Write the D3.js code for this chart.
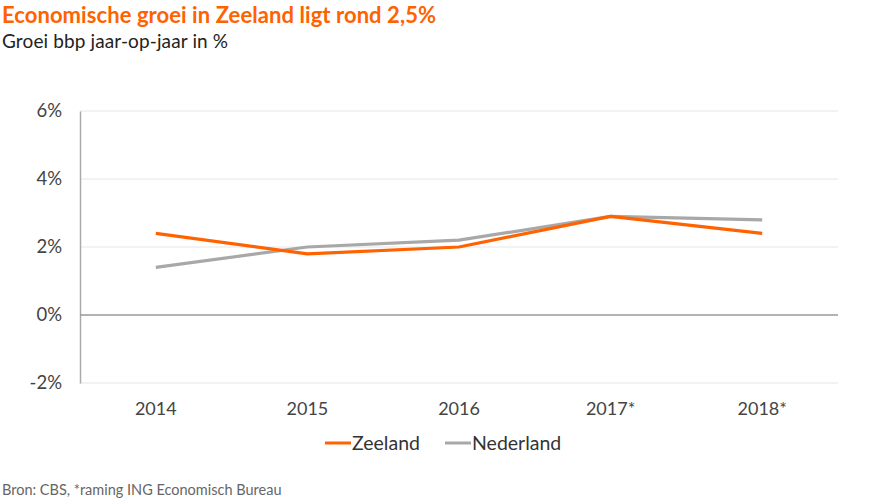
<!DOCTYPE html>
<html><head><meta charset="utf-8">
<script src="https://cdn.jsdelivr.net/npm/d3@7/dist/d3.min.js"></script>
<style>body{margin:0;background:#fff;} svg{display:block;font-family:Lato, "Open Sans", sans-serif;}</style>
</head><body>
<svg id="c" width="870" height="503"></svg>
<script>
const categories = ["2014", "2015", "2016", "2017*", "2018*"];
const zeeland = [2.4, 1.8, 2.0, 2.9, 2.4];
const nederland = [1.4, 2.0, 2.2, 2.9, 2.8];
const yTicks = [-2, 0, 2, 4, 6];
const seriesNames = ["Zeeland", "Nederland"];
const colors = ["#FF6200", "#A8A8A8"];

const svg = d3.select("#c");
const x = d3.scaleBand().domain(categories).range([80, 838]);
const y = d3.scaleLinear().domain([-2, 6]).range([383, 111]);

svg.append("text").attr("x", 2).attr("y", 23).attr("fill", "#FF6200")
  .attr("font-weight", "bold").attr("font-size", 22).attr("textLength", 434).text("Economische groei in Zeeland ligt rond 2,5%");
svg.append("text").attr("x", 2).attr("y", 48).attr("fill", "#222")
  .attr("font-size", 19).attr("textLength", 226).text("Groei bbp jaar-op-jaar in %");

// gridlines
svg.append("g").selectAll("line").data(yTicks.filter(d => d !== 0)).join("line")
  .attr("x1", 80).attr("x2", 838).attr("y1", d => y(d)).attr("y2", d => y(d))
  .attr("stroke", "#e6e6e6").attr("stroke-width", 1);

// y axis
const yAxis = svg.append("g").attr("transform", "translate(80,0)")
  .call(d3.axisLeft(y).tickValues(yTicks).tickSize(0).tickPadding(18).tickFormat(d => d + "%"));
yAxis.select(".domain").attr("stroke", "#aaa").attr("stroke-width", 1.5);
yAxis.selectAll("text").attr("font-size", 18.5).attr("fill", "#444").attr("font-family", "Lato, sans-serif");

// zero line
svg.append("line").attr("x1", 80).attr("x2", 838).attr("y1", y(0)).attr("y2", y(0))
  .attr("stroke", "#999").attr("stroke-width", 1.5);

// x axis
const xAxis = svg.append("g").attr("transform", "translate(0,383)")
  .call(d3.axisBottom(x).tickSize(0).tickPadding(19));
xAxis.select(".domain").remove();
xAxis.selectAll("text").attr("font-size", 18).attr("fill", "#444").attr("font-family", "Lato, sans-serif");

const line = d3.line().x((d, i) => x(categories[i]) + x.bandwidth() / 2).y(d => y(d));
[nederland, zeeland].forEach((s, k) => {
  const c = k === 0 ? colors[1] : colors[0];
  svg.append("path").datum(s).attr("d", line).attr("fill", "none")
    .attr("stroke", c).attr("stroke-width", 3.2).attr("stroke-linejoin", "round");
});

// legend
const legend = [{n: seriesNames[0], c: colors[0], x: 325}, {n: seriesNames[1], c: colors[1], x: 445}];
legend.forEach(l => {
  svg.append("line").attr("x1", l.x).attr("x2", l.x + 26).attr("y1", 443).attr("y2", 443)
    .attr("stroke", l.c).attr("stroke-width", 3);
  svg.append("text").attr("x", l.x + 27).attr("y", 450).attr("font-size", 19.5).attr("fill", "#333").text(l.n);
});

svg.append("text").attr("x", 2).attr("y", 495).attr("font-size", 14.5).attr("fill", "#666")
  .text("Bron: CBS, *raming ING Economisch Bureau");
</script>
</body></html>
